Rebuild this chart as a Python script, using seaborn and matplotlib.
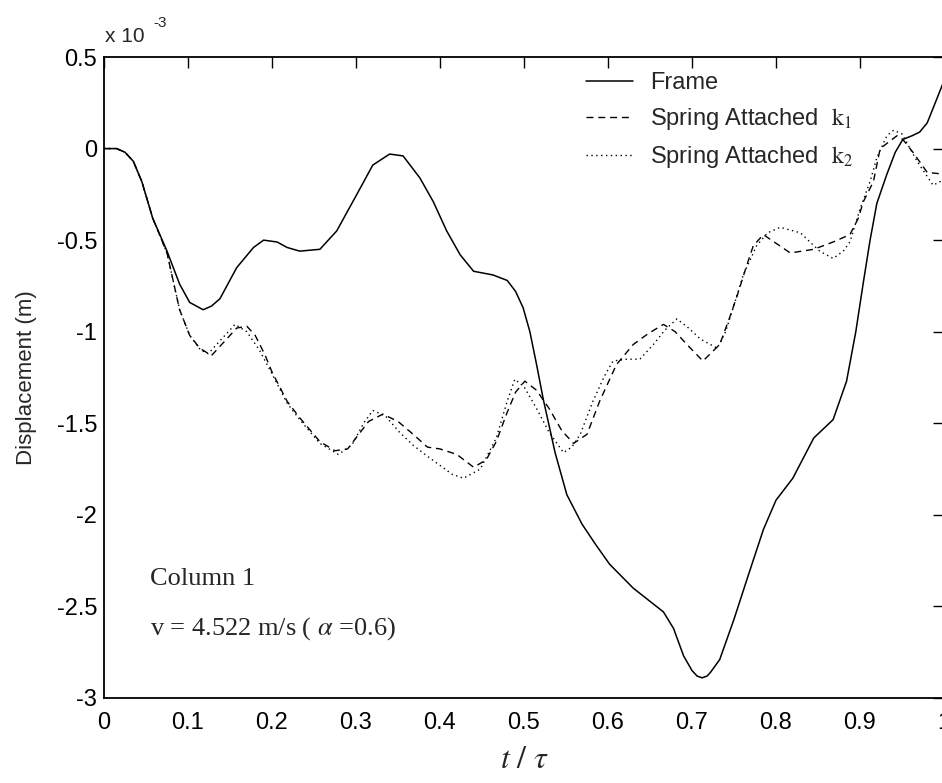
import numpy as np
import pandas as pd
import matplotlib
matplotlib.use("Agg")
import matplotlib.pyplot as plt
import seaborn as sns

# Displacement values in units of 1e-3 m, time as t / tau
frame_t = [0, 0.015, 0.025, 0.035, 0.045, 0.058, 0.075, 0.09, 0.102, 0.118,
           0.128, 0.138, 0.158, 0.178, 0.19, 0.206, 0.218, 0.233, 0.257, 0.277,
           0.301, 0.32, 0.34, 0.356, 0.376, 0.392, 0.408, 0.424, 0.44, 0.463,
           0.48, 0.49, 0.499, 0.507, 0.515, 0.523, 0.537, 0.551, 0.569, 0.585,
           0.602, 0.63, 0.666, 0.678, 0.69, 0.70, 0.706, 0.712, 0.718, 0.722,
           0.733, 0.75, 0.767, 0.785, 0.80, 0.82, 0.845, 0.868, 0.884, 0.895,
           0.904, 0.912, 0.92, 0.932, 0.942, 0.951, 0.962, 0.971, 0.98, 0.987, 1.0]
frame_d = [0, 0, -0.02, -0.07, -0.18, -0.38, -0.56, -0.74, -0.84, -0.88,
           -0.86, -0.82, -0.65, -0.54, -0.50, -0.51, -0.54, -0.56, -0.55, -0.45,
           -0.25, -0.09, -0.03, -0.04, -0.16, -0.29, -0.45, -0.58, -0.67, -0.69,
           -0.72, -0.78, -0.87, -1.0, -1.18, -1.37, -1.66, -1.89, -2.05, -2.16,
           -2.27, -2.40, -2.53, -2.62, -2.77, -2.85, -2.88, -2.89, -2.88, -2.86,
           -2.79, -2.57, -2.33, -2.08, -1.92, -1.80, -1.58, -1.48, -1.27, -1.0,
           -0.73, -0.5, -0.3, -0.14, -0.02, 0.05, 0.07, 0.09, 0.14, 0.22, 0.37]

k1_t = [0, 0.015, 0.025, 0.035, 0.045, 0.058, 0.075, 0.09, 0.102, 0.114,
        0.128, 0.14, 0.158, 0.17, 0.18, 0.192, 0.2, 0.218, 0.233, 0.257,
        0.275, 0.29, 0.30, 0.315, 0.332, 0.35, 0.368, 0.385, 0.40, 0.42,
        0.44, 0.455, 0.467, 0.48, 0.49, 0.501, 0.515, 0.53, 0.545, 0.559,
        0.575, 0.59, 0.61, 0.63, 0.648, 0.666, 0.68, 0.694, 0.713, 0.733,
        0.745, 0.754, 0.765, 0.773, 0.785, 0.801, 0.817, 0.845, 0.868, 0.888,
        0.898, 0.904, 0.916, 0.924, 0.944, 0.951, 0.963, 0.98, 1.0]
k1_d = [0, 0, -0.02, -0.07, -0.18, -0.38, -0.57, -0.88, -1.02, -1.09,
        -1.13, -1.07, -0.98, -0.97, -1.02, -1.13, -1.22, -1.38, -1.47, -1.60,
        -1.65, -1.64, -1.58, -1.49, -1.45, -1.49, -1.56, -1.63, -1.64, -1.67,
        -1.74, -1.70, -1.60, -1.44, -1.33, -1.27, -1.32, -1.42, -1.54, -1.61,
        -1.56, -1.38, -1.18, -1.07, -1.01, -0.96, -1.00, -1.07, -1.16, -1.07,
        -0.92, -0.80, -0.64, -0.53, -0.47, -0.52, -0.57, -0.55, -0.51, -0.47,
        -0.38, -0.29, -0.18, 0.0, 0.07, 0.05, -0.02, -0.13, -0.14]

k2_t = [0, 0.015, 0.025, 0.035, 0.045, 0.058, 0.075, 0.09, 0.102, 0.115,
        0.124, 0.14, 0.156, 0.17, 0.185, 0.2, 0.218, 0.233, 0.257, 0.279,
        0.295, 0.309, 0.32, 0.335, 0.352, 0.368, 0.385, 0.40, 0.415, 0.428,
        0.448, 0.467, 0.48, 0.489, 0.50, 0.515, 0.53, 0.547, 0.557, 0.567,
        0.582, 0.596, 0.606, 0.622, 0.638, 0.654, 0.668, 0.682, 0.696, 0.71,
        0.73, 0.74, 0.749, 0.761, 0.777, 0.79, 0.805, 0.829, 0.852, 0.868,
        0.88, 0.888, 0.9, 0.912, 0.92, 0.932, 0.94, 0.95, 0.968, 0.987, 1.0]
k2_d = [0, 0, -0.02, -0.07, -0.18, -0.38, -0.57, -0.88, -1.02, -1.10,
        -1.12, -1.04, -0.96, -1.00, -1.10, -1.23, -1.39, -1.48, -1.61, -1.67,
        -1.62, -1.50, -1.43, -1.46, -1.55, -1.62, -1.68, -1.73, -1.78, -1.80,
        -1.75, -1.58, -1.38, -1.26, -1.30, -1.42, -1.55, -1.66, -1.63, -1.56,
        -1.38, -1.24, -1.16, -1.15, -1.15, -1.07, -0.99, -0.93, -0.98, -1.04,
        -1.09, -1.00, -0.87, -0.69, -0.53, -0.46, -0.43, -0.46, -0.56, -0.60,
        -0.56, -0.51, -0.33, -0.18, -0.05, 0.07, 0.10, 0.08, -0.07, -0.20, -0.17]

labels = ["Frame", r"Spring Attached  $\mathrm{k}_{1}$", r"Spring Attached  $\mathrm{k}_{2}$"]

sns.set_style("white")
plt.rcParams['font.family'] = ['Liberation Sans', 'DejaVu Sans']
plt.rcParams['mathtext.fontset'] = 'stix'

fig = plt.figure(figsize=(9.42, 7.83), dpi=100)
ax = fig.add_axes([104 / 942, 1 - 698 / 783, 840 / 942, 641 / 783])

df_frame = pd.DataFrame({'t': frame_t, 'd': frame_d})
df_k1 = pd.DataFrame({'t': k1_t, 'd': k1_d})
df_k2 = pd.DataFrame({'t': k2_t, 'd': k2_d})

sns.lineplot(data=df_frame, x='t', y='d', ax=ax, color='black', linewidth=1.1,
             label=labels[0])
sns.lineplot(data=df_k1, x='t', y='d', ax=ax, color='black', linewidth=1.0,
             linestyle=(0, (5, 3.5)), label=labels[1])
sns.lineplot(data=df_k2, x='t', y='d', ax=ax, color='black', linewidth=1.0,
             linestyle=(0, (1, 2.5)), label=labels[2])

ax.set_xlim(0, 1)
ax.set_ylim(-3, 0.5)
ax.set_xticks(np.arange(0, 1.01, 0.1))
ax.set_xticklabels(['0', '0.1', '0.2', '0.3', '0.4', '0.5', '0.6', '0.7', '0.8', '0.9', '1'])
ax.set_yticks(np.arange(-3, 0.51, 0.5))
ax.set_yticklabels(['-3', '-2.5', '-2', '-1.5', '-1', '-0.5', '0', '0.5'])
ax.tick_params(direction='in', length=8, width=1, top=True, right=True,
               labelsize=17, colors='black')
ax.tick_params(axis='x', pad=10)
ax.tick_params(axis='y', pad=5)
for s in ax.spines.values():
    s.set_color('black')
    s.set_linewidth(1.3)

ax.set_xlabel(r"$t\ /\ \tau$", fontsize=23, labelpad=8)
ax.set_ylabel("Displacement (m)", fontsize=16, labelpad=14)

# exponent marker in MATLAB style
fig.text(105 / 942, 1 - 36 / 783, "x 10", fontsize=15, ha='left', va='center')
fig.text(153 / 942, 1 - 23 / 783, "-3", fontsize=11, ha='left', va='center')

ax.text(0.055, -2.35, "Column 1", fontsize=19, family='Liberation Serif',
        ha='left', va='center')
ax.text(0.055, -2.62, r"v = 4.522 m/s ( $\alpha$ =0.6)", fontsize=19,
        family='Liberation Serif', ha='left', va='center')

ax.legend(loc='upper left', bbox_to_anchor=(0.574, 0.976), frameon=False,
          fontsize=17, handlelength=2.0, handletextpad=0.7, labelspacing=0.5,
          borderpad=0, borderaxespad=0)

fig.savefig("out.png", dpi=100, facecolor='white')
